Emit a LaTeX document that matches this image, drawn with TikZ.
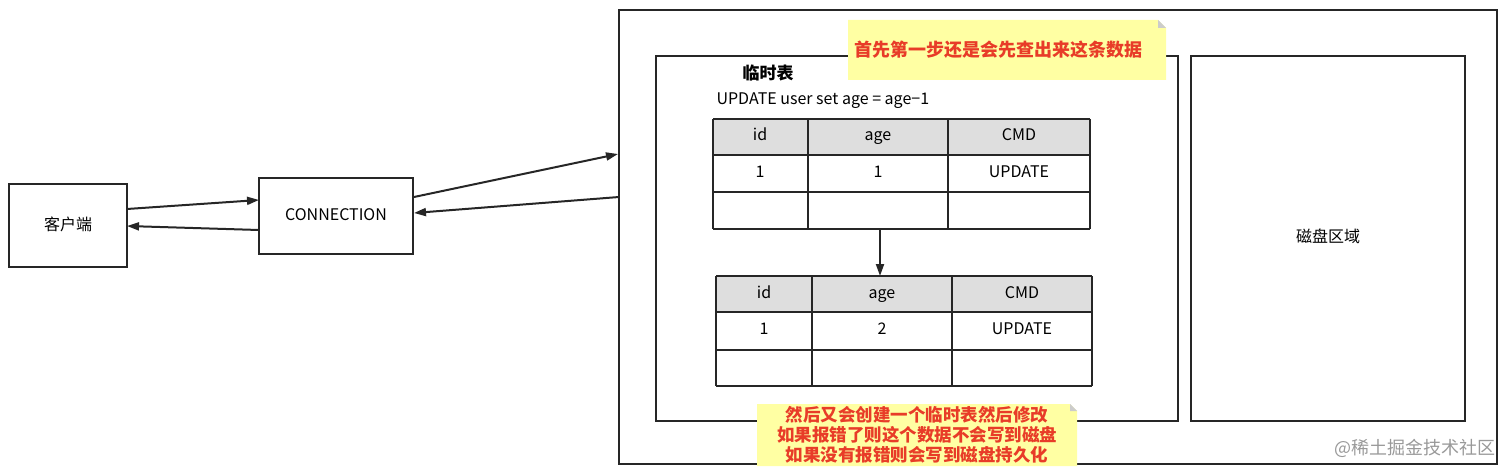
\documentclass[tikz,border=0pt]{standalone}
\usepackage{fontspec}
\setmainfont{Noto Sans CJK SC}
\usetikzlibrary{arrows.meta}
\definecolor{notey}{RGB}{255,255,163}
\definecolor{notered}{RGB}{232,60,40}
\definecolor{hdr}{RGB}{222,222,222}
\begin{document}
\begin{tikzpicture}[x=1pt,y=-1pt,
 box/.style={draw=black!85,line width=2pt},
 cell/.style={draw=black!85,line width=2.6pt},
 arr/.style={-{Triangle[length=12pt,width=8pt]},line width=2pt,draw=black!85},
 lbl/.style={font=\fontsize{16}{18}\selectfont,text height=11pt,text depth=3pt},
 note/.style={font=\fontsize{18}{22}\selectfont\bfseries,text=notered,align=center}]
\useasboundingbox (0,0) rectangle (1512,476);
\draw[box] (9,184) rectangle (127,267);
\node[lbl] (cli) at (68,226) {客户端};
\coordinate (cliA) at (127,209); \coordinate (cliB) at (127,226);
\draw[box] (259,178) rectangle (413,254);
\node[lbl] (conn) at (336,216) {CONNECTION};
\coordinate (cA) at (259,200); \coordinate (cB) at (259,230);
\coordinate (cC) at (414,197); \coordinate (cD) at (414,213);
\draw[box] (619,10) rectangle (1497,464);
\coordinate (oA) at (618,154); \coordinate (oB) at (619,197);
\draw[box] (656,56) rectangle (1178,421);
\draw[box] (1191,56) rectangle (1465,421);
\node[lbl] (disk) at (1328,238) {磁盘区域};
\draw[arr] (cliA) -- (cA);
\draw[arr] (cB) -- (cliB);
\draw[arr] (cC) -- (oA);
\draw[arr] (oB) -- (cD);
% note top
\fill[notey] (848,20) -- (1158,20) -- (1166,28) -- (1166,80) -- (848,80) -- cycle;
\fill[black!20] (1158,20) -- (1166,28) -- (1158,28) -- cycle;
\node[note] (n1) at (998,50) {首先第一步还是会先查出来这条数据};
\node[font=\fontsize{17}{18}\selectfont\bfseries] (tt) at (768,73) {临时表};
\node[lbl,anchor=west] (sql) at (713,101) {UPDATE user set age = age−1};
% table 1
\fill[hdr] (713,119) rectangle (1090,155);
\foreach \x in {713,808,948,1090} \draw[cell] (\x,119) -- (\x,229);
\foreach \y in {119,155,192,229} \draw[cell] (713,\y) -- (1090,\y);
\node[lbl] (a1) at (760,137) {id};
\node[lbl] (a2) at (878,137) {age};
\node[lbl] (a3) at (1019,137) {CMD};
\node[lbl] (b1) at (760,173) {1};
\node[lbl] (b2) at (878,173) {1};
\node[lbl] (b3) at (1019,173) {UPDATE};
% table 2
\fill[hdr] (716,276) rectangle (1092,312);
\foreach \x in {716,812,952,1092} \draw[cell] (\x,276) -- (\x,386);
\foreach \y in {276,312,350,386} \draw[cell] (716,\y) -- (1092,\y);
\node[lbl] (c1) at (764,294) {id};
\node[lbl] (c2) at (882,294) {age};
\node[lbl] (c3) at (1022,294) {CMD};
\node[lbl] (d1) at (764,330) {1};
\node[lbl] (d2) at (882,330) {2};
\node[lbl] (d3) at (1022,330) {UPDATE};
\coordinate (t1) at (880,230); \coordinate (t2) at (880,276);
\draw[arr] (t1) -- (t2);
% note bottom
\fill[notey] (757,404) -- (1070,404) -- (1077,411) -- (1077,466) -- (757,466) -- cycle;
\fill[black!20] (1070,404) -- (1077,411) -- (1070,411) -- cycle;
\node[note,font=\fontsize{17.5}{20}\selectfont\bfseries] (n2) at (917,435) {然后又会创建一个临时表然后修改\\如果报错了则这个数据不会写到磁盘\\如果没有报错则会写到磁盘持久化};
\node[text=black!40,font=\fontsize{18}{20}\selectfont,anchor=east] (wm) at (1499,448) {@稀土掘金技术社区};
\end{tikzpicture}
\end{document}
